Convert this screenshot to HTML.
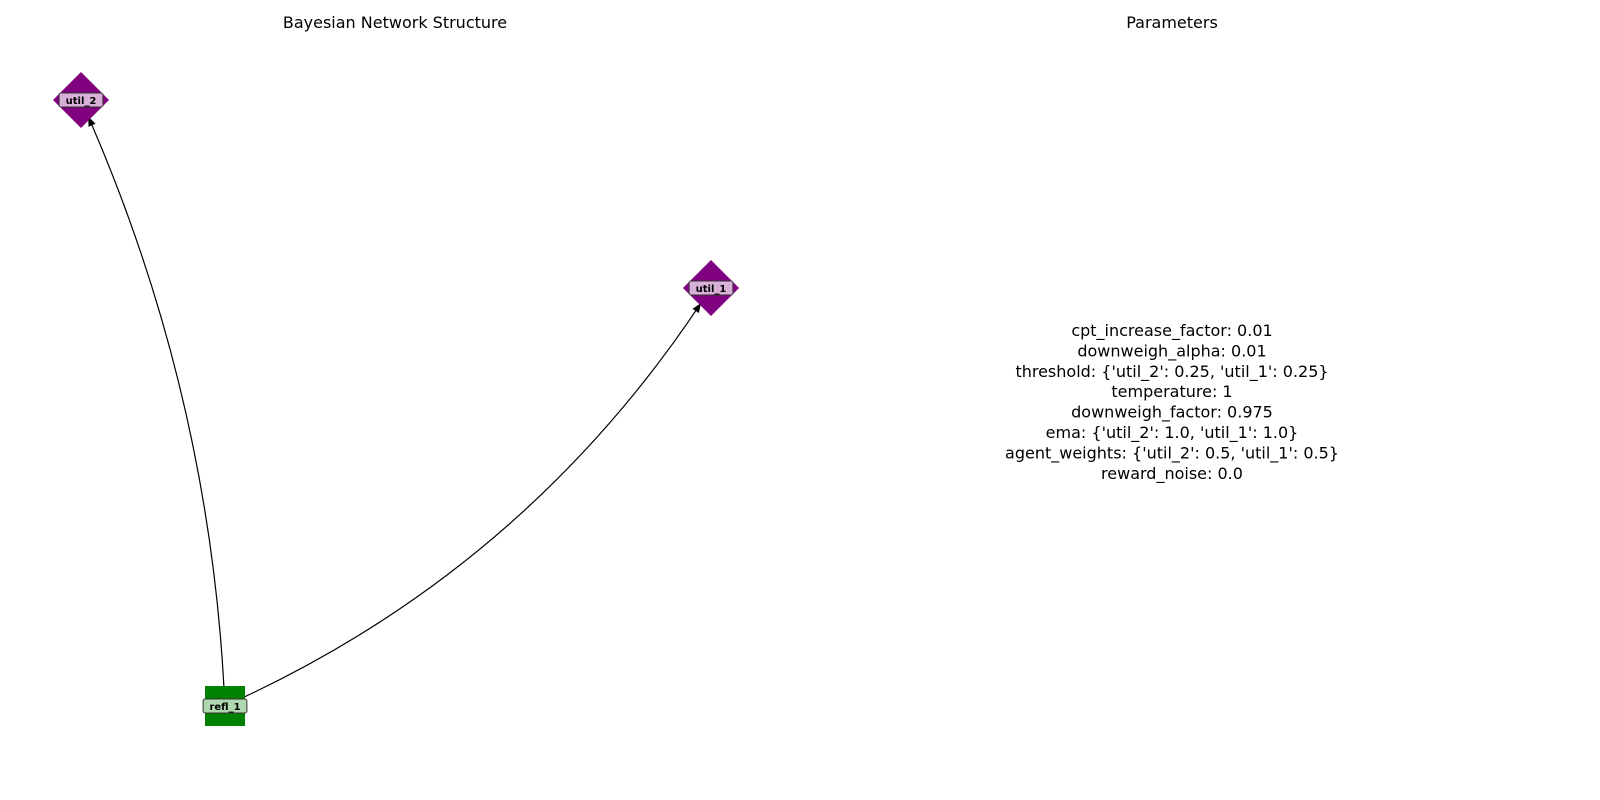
<!DOCTYPE html>
<html><head><meta charset="utf-8"><style>
html,body{margin:0;padding:0;background:#fff;overflow:hidden;}
svg{display:block;font-family:"DejaVu Sans","Liberation Sans",sans-serif;}
</style></head><body>
<svg id="c" width="1600" height="800">
<defs><marker id="ah" viewBox="0 0 10 10" refX="9" refY="5" markerWidth="8" markerHeight="8" orient="auto-start-reverse"><path d="M0,1 L10,5 L0,9 Z" fill="#000"/></marker></defs>
<text x="395" y="28" text-anchor="middle" font-size="16">Bayesian Network Structure</text>
<text x="1172" y="28" text-anchor="middle" font-size="16">Parameters</text>
<g id="edges"></g><g id="nodes"></g><g id="params"></g>
</svg>
<script>
const nodeNames=["util_2","util_1","refl_1"];
const nodeX=[81,711,225];
const nodeY=[100,288,706];
const nodeShape=["diamond","diamond","square"];
const edgeFrom=[2,2];
const edgeTo=[0,1];
const edgeBend=[0.09,0.14];
const paramLines=["cpt_increase_factor: 0.01","downweigh_alpha: 0.01","threshold: {'util_2': 0.25, 'util_1': 0.25}","temperature: 1","downweigh_factor: 0.975","ema: {'util_2': 1.0, 'util_1': 1.0}","agent_weights: {'util_2': 0.5, 'util_1': 0.5}","reward_noise: 0.0"];
const NS="http://www.w3.org/2000/svg";
const E=document.getElementById('edges'),N=document.getElementById('nodes'),P=document.getElementById('params');
function mk(t,a){const e=document.createElementNS(NS,t);for(const k in a)e.setAttribute(k,a[k]);return e;}
edgeFrom.forEach((f,i)=>{
  const t=edgeTo[i];
  let x0=nodeX[f],y0=nodeY[f],x1=nodeX[t],y1=nodeY[t];
  const dx=x1-x0,dy=y1-y0,L=Math.hypot(dx,dy);
  const r0=nodeShape[f]=="square"?20:26,r1=nodeShape[t]=="square"?20:19;
  const ux=dx/L,uy=dy/L;
  const mx=(x0+x1)/2,my=(y0+y1)/2;
  const cx=mx-uy*L*edgeBend[i],cy=my+ux*L*edgeBend[i];
  let t0x=cx-x0,t0y=cy-y0,l0=Math.hypot(t0x,t0y);
  let t1x=cx-x1,t1y=cy-y1,l1=Math.hypot(t1x,t1y);
  const sx=x0+t0x/l0*r0,sy=y0+t0y/l0*r0,ex=x1+t1x/l1*r1,ey=y1+t1y/l1*r1;
  const p=mk('path',{d:`M${sx},${sy} Q${cx},${cy} ${ex},${ey}`,fill:'none',stroke:'#000','stroke-width':1.2,'marker-end':'url(#ah)'});
  
  
  E.appendChild(p);
});
nodeNames.forEach((n,i)=>{
  const g=mk('g',{});
  
  
  const x=nodeX[i],y=nodeY[i];
  if(nodeShape[i]=="diamond"){
    g.appendChild(mk('polygon',{points:`${x},${y-28} ${x+28},${y} ${x},${y+28} ${x-28},${y}`,fill:'#800080'}));
  }else{
    g.appendChild(mk('rect',{x:x-20,y:y-20,width:40,height:40,fill:'#008000'}));
  }
  const w=n.length*6.3+6;
  g.appendChild(mk('rect',{x:x-w/2,y:y-7,width:w,height:14,rx:2,fill:nodeShape[i]=="diamond"?'#d8b0d8':'#b0d8b0',stroke:'#333','stroke-width':1}));
  const tx=mk('text',{x:x,y:y+4,'text-anchor':'middle','font-size':10,'font-weight':'bold'});
  tx.textContent=n;g.appendChild(tx);
  N.appendChild(g);
});
paramLines.forEach((s,i)=>{
  const t=mk('text',{x:1172,y:336+i*20.4,'text-anchor':'middle','font-size':16});
  
  
  t.textContent=s;P.appendChild(t);
});
</script>
</body></html>
